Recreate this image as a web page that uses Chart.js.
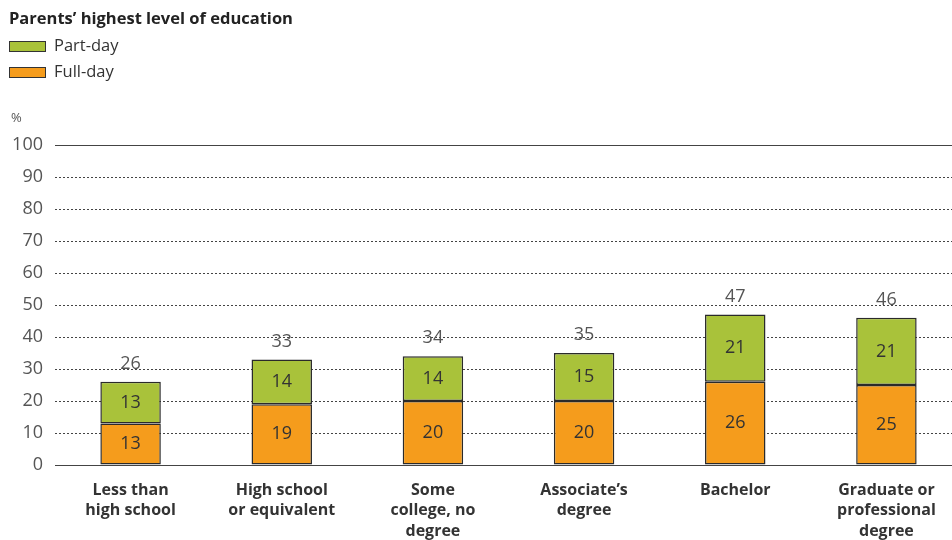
<!DOCTYPE html>
<html>
<head>
<meta charset="utf-8">
<script src="https://cdn.jsdelivr.net/npm/chart.js@4"></script>
<style>
  body { margin: 0; background: #fff; font-family: "Open Sans", sans-serif; }
  #wrap { position: relative; width: 952px; height: 540px; overflow: hidden; }
  #myChart { position: absolute; left: 0; top: 0; }
  .title { position: absolute; left: 9px; top: 6px; font-weight: bold; font-size: 16.5px; color: #222; }
  .leg { position: absolute; left: 9px; font-size: 16.5px; color: #333; }
  .leg span { display: inline-block; width: 35px; height: 9px; border: 1px solid #333; vertical-align: middle; margin-right: 8px; }
  .unit { position: absolute; left: 11px; top: 108px; font-size: 13px; color: #555; }
</style>
</head>
<body>
<div id="wrap">
  <canvas id="myChart" width="962" height="540"></canvas>
  <div class="title">Parents’ highest level of education</div>
  <div class="leg" style="top:33px"><span style="background:#a9c23a"></span>Part-day</div>
  <div class="leg" style="top:59px"><span style="background:#f59c1c"></span>Full-day</div>
  <div class="unit">%</div>
</div>
<script>
var categories = [
  ['Less than', 'high school'],
  ['High school', 'or equivalent'],
  ['Some', 'college, no', 'degree'],
  ['Associate’s', 'degree'],
  ['Bachelor'],
  ['Graduate or', 'professional', 'degree']
];
var fullDay = [13, 19, 20, 20, 26, 25];
var partDay = [13, 14, 14, 15, 21, 21];
var totals = [26, 33, 34, 35, 47, 46];
var yTicks = [0, 10, 20, 30, 40, 50, 60, 70, 80, 90, 100];

// values inside segments and totals on top
var labelPlugin = {
  id: 'labels',
  afterDatasetsDraw(chart) {
    var ctx = chart.ctx;
    ctx.save();
    ctx.font = '18px "Open Sans"';
    ctx.textAlign = 'center';
    ctx.textBaseline = 'middle';
    chart.data.datasets.forEach((ds, i) => {
      chart.getDatasetMeta(i).data.forEach((bar, j) => {
        ctx.fillStyle = '#333';
        ctx.fillText(ds.data[j], bar.x, (bar.y + bar.base) / 2);
        if (i == chart.data.datasets.length - 1) {
          ctx.fillStyle = '#555';
          ctx.fillText(totals[j], bar.x, bar.y - 18);
        }
      });
    });
    // solid top line at 100
    var y = chart.scales.y.getPixelForValue(100);
    ctx.strokeStyle = '#444';
    ctx.lineWidth = 1;
    ctx.beginPath();
    ctx.moveTo(chart.chartArea.left, Math.round(y) + 0.5);
    ctx.lineTo(chart.chartArea.right, Math.round(y) + 0.5);
    ctx.stroke();
    ctx.restore();
  }
};

var ctx = document.getElementById('myChart').getContext('2d');
var myChart = new Chart(ctx, {
  type: 'bar',
  data: {
    labels: categories,
    datasets: [{
      label: 'Full-day',
      data: fullDay,
      backgroundColor: '#f59c1c',
      borderColor: '#2a2a2a',
      borderWidth: 1.5,
      borderSkipped: false
    }, {
      label: 'Part-day',
      data: partDay,
      backgroundColor: '#a9c23a',
      borderColor: '#2a2a2a',
      borderWidth: 1.5,
      borderSkipped: false
    }]
  },
  options: {
    responsive: false,
    animation: false,
    layout: { padding: { top: 145, right: 0, left: 0, bottom: 0 } },
    plugins: { legend: { display: false }, tooltip: { enabled: false } },
    datasets: { bar: { barPercentage: 0.4, categoryPercentage: 1 } },
    scales: {
      x: {
        stacked: true,
        grid: { display: false },
        border: { display: true, color: '#444', width: 1 },
        ticks: {
          color: '#333',
          padding: 7,
          font: { family: 'Open Sans', size: 16, weight: 'bold', lineHeight: 1.28 }
        },
        afterFit(scale) { scale.height = 75; }
      },
      y: {
        stacked: true,
        min: 0,
        max: 100,
        afterBuildTicks(scale) { scale.ticks = yTicks.map(v => ({ value: v })); },
        grid: { color: '#444', drawTicks: false },
        border: { display: false, dash: [2, 2] },
        ticks: {
          color: '#555',
          padding: 12,
          font: { family: 'Open Sans', size: 18 }
        },
        afterFit(scale) { scale.width = 55; }
      }
    }
  },
  plugins: [labelPlugin]
});
</script>
</body>
</html>
